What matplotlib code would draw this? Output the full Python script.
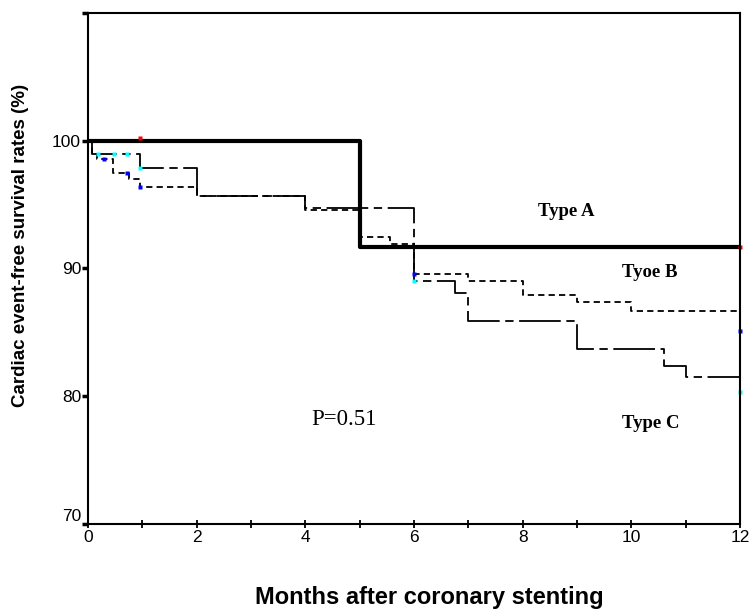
import matplotlib
matplotlib.use('Agg')
import matplotlib.pyplot as plt

plt.rcParams['font.family'] = 'Liberation Sans'
plt.rcParams['lines.scale_dashes'] = False

# Kaplan-Meier step data (months, survival %)
months_a = [0, 5, 12]
surv_a = [100, 91.7, 91.7]

months_b = [0, 0.07, 0.16, 0.46, 0.75, 0.96, 2, 4, 5, 5.55, 6, 7, 8, 9, 10, 12]
surv_b = [100, 99.0, 98.55, 97.5, 97.0, 96.4, 95.7, 94.6, 92.5, 91.9, 89.6, 89.0, 87.9, 87.4, 86.7, 86.7]

months_c = [0, 0.07, 0.96, 2, 4, 6, 6.75, 7, 9, 10.6, 11, 12]
surv_c = [100, 99.0, 97.9, 95.7, 94.7, 89.0, 88.1, 85.9, 83.7, 82.4, 81.5, 81.5]

# censor marks
cens_red_x = [0.96, 12]
cens_red_y = [100.2, 91.7]
cens_blue_x = [0.29, 0.71, 0.96, 6.0, 12]
cens_blue_y = [98.55, 97.5, 96.4, 89.6, 85.1]
cens_cyan_x = [0.19, 0.48, 0.71, 0.96, 6.0, 12]
cens_cyan_y = [99.0, 99.0, 99.0, 97.9, 89.0, 80.3]

xticks = [0, 2, 4, 6, 8, 10, 12]
yticks = [70, 80, 90, 100, 110]
ytick_labels = ['70', '80', '90', '100', '']

fig = plt.figure(figsize=(7.5, 6.13), dpi=100)
ax = fig.add_axes([0.1173, 0.1452, 0.8694, 0.8336])

ax.step(months_c, surv_c, where='post', color='black', lw=1.3, dashes=(30, 4, 6, 4))
ax.step(months_b, surv_b, where='post', color='black', lw=1.3, dashes=(4.5, 3))
ax.step(months_a, surv_a, where='post', color='black', lw=3.0)

ax.plot(cens_red_x, cens_red_y, 's', color='red', ms=2.5, mec='none', clip_on=False)
ax.plot(cens_blue_x, cens_blue_y, 's', color='blue', ms=2.5, mec='none', clip_on=False)
ax.plot(cens_cyan_x, cens_cyan_y, 's', color='cyan', ms=2.5, mec='none', clip_on=False)

ax.set_xlim(0, 12)
ax.set_ylim(70, 110)
ax.set_xticks(xticks)
ax.set_xticks(range(0, 13), minor=True)
ax.set_yticks(yticks)
ax.set_yticklabels(ytick_labels)
ax.tick_params(axis='x', which='both', direction='inout', length=6, width=1.3, labelsize=12.5, pad=1)
ax.tick_params(axis='y', direction='out', length=4, width=2.5, labelsize=12.5, pad=1)
# the "70" label sits above the corner
ax.get_yticklabels()[0].set_va('bottom')

for sp in ax.spines.values():
    sp.set_linewidth(1.5)

fig.text(0.572, 0.026, 'Months after coronary stenting', fontsize=17, fontweight='bold',
         ha='center', va='center')
fig.text(0.027, 0.6, 'Cardiac event-free survival rates (%)', rotation=90,
         fontsize=13.5, fontweight='bold', ha='center', va='center')

serif = 'Liberation Serif'
ax.text(8.81, 94.45, 'Type A', family=serif, fontweight='bold', fontsize=13.5, ha='center', va='center')
ax.text(10.34, 89.68, 'Tyoe B', family=serif, fontweight='bold', fontsize=13.5, ha='center', va='center')
ax.text(10.35, 77.9, 'Type C', family=serif, fontweight='bold', fontsize=13.5, ha='center', va='center')
ax.text(4.71, 78.2, 'P=0.51', family=serif, fontsize=16.5, ha='center', va='center')

fig.savefig('out.png', dpi=100)
